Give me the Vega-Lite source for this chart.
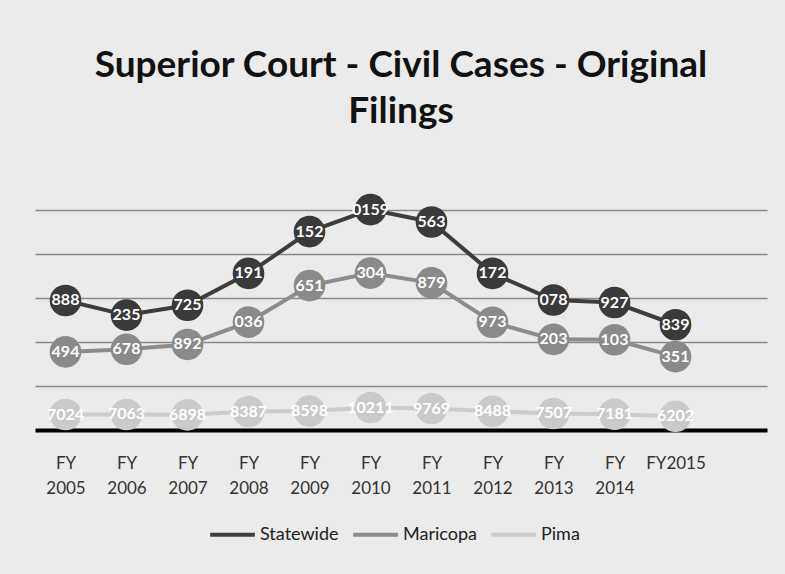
{
  "$schema": "https://vega.github.io/schema/vega-lite/v6.json",
  "width": 732,
  "height": 264,
  "autosize": {"type": "none"},
  "padding": {"left": 35, "top": 166, "right": 18, "bottom": 144},
  "background": "#ebebeb",
  "title": {
    "text": ["Superior Court - Civil Cases - Original", "Filings"],
    "font": "Lato",
    "fontSize": 37,
    "fontWeight": "bold",
    "color": "#111111",
    "lineHeight": 46,
    "anchor": "middle",
    "offset": 35
  },
  "config": {"view": {"stroke": null}},
  "data": {
    "values": [
      {"series": "Statewide", "year": "FY 2005", "filings": 58888, "label": "888"},
      {"series": "Statewide", "year": "FY 2006", "filings": 52235, "label": "235"},
      {"series": "Statewide", "year": "FY 2007", "filings": 56725, "label": "725"},
      {"series": "Statewide", "year": "FY 2008", "filings": 71191, "label": "191"},
      {"series": "Statewide", "year": "FY 2009", "filings": 90152, "label": "152"},
      {"series": "Statewide", "year": "FY 2010", "filings": 100159, "label": "0159"},
      {"series": "Statewide", "year": "FY 2011", "filings": 94563, "label": "563"},
      {"series": "Statewide", "year": "FY 2012", "filings": 71172, "label": "172"},
      {"series": "Statewide", "year": "FY 2013", "filings": 59078, "label": "078"},
      {"series": "Statewide", "year": "FY 2014", "filings": 57927, "label": "927"},
      {"series": "Statewide", "year": "FY2015", "filings": 47839, "label": "839"},
      {"series": "Maricopa", "year": "FY 2005", "filings": 35494, "label": "494"},
      {"series": "Maricopa", "year": "FY 2006", "filings": 36678, "label": "678"},
      {"series": "Maricopa", "year": "FY 2007", "filings": 38892, "label": "892"},
      {"series": "Maricopa", "year": "FY 2008", "filings": 49036, "label": "036"},
      {"series": "Maricopa", "year": "FY 2009", "filings": 65651, "label": "651"},
      {"series": "Maricopa", "year": "FY 2010", "filings": 71304, "label": "304"},
      {"series": "Maricopa", "year": "FY 2011", "filings": 66879, "label": "879"},
      {"series": "Maricopa", "year": "FY 2012", "filings": 48973, "label": "973"},
      {"series": "Maricopa", "year": "FY 2013", "filings": 41203, "label": "203"},
      {"series": "Maricopa", "year": "FY 2014", "filings": 41036, "label": "103"},
      {"series": "Maricopa", "year": "FY2015", "filings": 33351, "label": "351"},
      {"series": "Pima", "year": "FY 2005", "filings": 7024, "label": "7024"},
      {"series": "Pima", "year": "FY 2006", "filings": 7063, "label": "7063"},
      {"series": "Pima", "year": "FY 2007", "filings": 6898, "label": "6898"},
      {"series": "Pima", "year": "FY 2008", "filings": 8387, "label": "8387"},
      {"series": "Pima", "year": "FY 2009", "filings": 8598, "label": "8598"},
      {"series": "Pima", "year": "FY 2010", "filings": 10211, "label": "10211"},
      {"series": "Pima", "year": "FY 2011", "filings": 9769, "label": "9769"},
      {"series": "Pima", "year": "FY 2012", "filings": 8488, "label": "8488"},
      {"series": "Pima", "year": "FY 2013", "filings": 7507, "label": "7507"},
      {"series": "Pima", "year": "FY 2014", "filings": 7181, "label": "7181"},
      {"series": "Pima", "year": "FY2015", "filings": 6202, "label": "6202"}
    ]
  },
  "encoding": {
    "x": {
      "field": "year",
      "type": "nominal",
      "sort": null,
      "scale": {"type": "point", "domain": ["FY 2005", "FY 2006", "FY 2007", "FY 2008", "FY 2009", "FY 2010", "FY 2011", "FY 2012", "FY 2013", "FY 2014", "FY2015", " "]},
      "axis": {
        "title": null,
        "grid": false,
        "ticks": false,
        "domain": true,
        "domainColor": "#000000",
        "domainWidth": 4,
        "labelAngle": 0,
        "labelExpr": "split(datum.value, ' ')",
        "labelFont": "Lato",
        "labelFontSize": 17,
        "labelColor": "#333333",
        "labelPadding": 33,
        "labelLineHeight": 25,
        "labelBaseline": "middle"
      }
    },
    "y": {
      "field": "filings",
      "type": "quantitative",
      "scale": {"domain": [0, 120000]},
      "axis": {
        "title": null,
        "labels": false,
        "ticks": false,
        "domain": false,
        "grid": true,
        "gridColor": "#8a8a8a",
        "gridWidth": 1.5,
        "values": [20000, 40000, 60000, 80000, 100000]
      }
    }
  },
  "layer": [
    {
      "mark": {"type": "line", "strokeWidth": 4},
      "encoding": {
        "color": {
          "field": "series",
          "type": "nominal",
          "sort": ["Statewide", "Maricopa", "Pima"],
          "scale": {"domain": ["Statewide", "Maricopa", "Pima"], "range": ["#3d3d3d", "#8c8c8c", "#cccccc"]},
          "legend": {
            "title": null,
            "orient": "none",
            "legendX": 173,
            "legendY": 344,
            "direction": "horizontal",
            "symbolType": "stroke",
            "symbolSize": 2000,
            "symbolStrokeWidth": 4,
            "labelFont": "Lato",
            "labelFontSize": 18,
            "labelColor": "#222222",
            "columnPadding": 6,
            "labelOffset": 3
          }
        }
      }
    },
    {
      "mark": {"type": "point", "filled": true, "opacity": 1, "size": 1000, "shape": "circle"},
      "encoding": {
        "fill": {
          "field": "series",
          "type": "nominal",
          "scale": {"domain": ["Statewide", "Maricopa", "Pima"], "range": ["#3a3a3a", "#8a8a8a", "#cacaca"]},
          "legend": null
        }
      }
    },
    {
      "mark": {"type": "text", "color": "#ffffff", "font": "Lato", "fontWeight": "bold", "fontSize": 16, "baseline": "middle", "align": "center"},
      "encoding": {"text": {"field": "label"}}
    }
  ]
}
